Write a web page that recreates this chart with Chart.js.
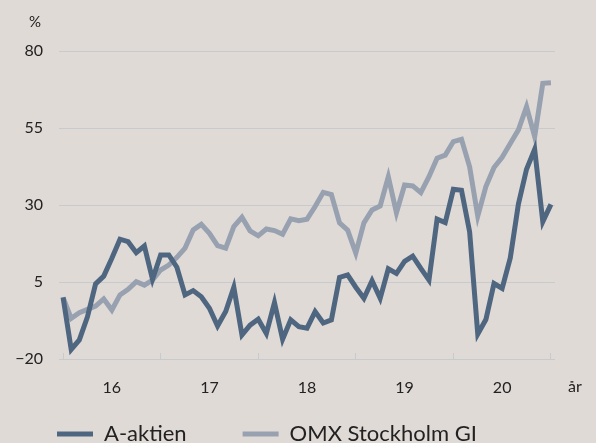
<!DOCTYPE html>
<html>
<head>
<meta charset="utf-8">
<script src="https://cdn.jsdelivr.net/npm/chart.js@4.4.1/dist/chart.umd.min.js"></script>
<style>
  html, body { margin: 0; padding: 0; background: #e0dad7; overflow: hidden; height: 443px; }
  canvas { display: block; }
</style>
</head>
<body>
<canvas id="chart" width="596" height="455"></canvas>
<script>
// month-end observations, Dec 2015 .. Dec 2020
const YEAR_LABELS = ['16', '17', '18', '19', '20'];
const MONTHS = ['dec 15'];
YEAR_LABELS.forEach(y => {
    ['jan', 'feb', 'mar', 'apr', 'maj', 'jun', 'jul', 'aug', 'sep', 'okt', 'nov', 'dec']
        .forEach(m => MONTHS.push(m + ' ' + y));
});

const A_AKTIEN = [
    0, -16.9, -13.8, -6.3, 4.4, 6.9, 12.7, 18.9, 18.1, 14.5, 16.7, 5.9,
    13.8, 13.8, 9.8, 0.8, 2.2, 0.2, -3.5, -9.3, -4.6, 3.3, -12.2, -9,
    -7.1, -11.7, -1.7, -13.6, -7.3, -9.5, -10, -4.6, -8.3, -7.3, 6.5, 7.3,
    3.3, -0.3, 5.4, -0.3, 9.3, 7.8, 11.7, 13.4, 9.4, 5.6, 25.4, 24.3,
    35.1, 34.8, 21.3, -11.9, -7.2, 4.5, 2.9, 12.8, 30.3, 41.6, 48.1, 24.6,
    30.2
];
const OMX_GI = [
    0, -6.8, -5, -3.9, -2.8, -0.5, -4.1, 0.8, 2.6, 5.1, 4, 5.6,
    8.9, 10.5, 13, 16, 21.9, 23.7, 20.8, 16.8, 16, 23, 26, 21.6,
    20, 22.2, 21.7, 20.5, 25.5, 24.9, 25.4, 29.5, 34.1, 33.4, 24.2, 21.8,
    14.4, 24.2, 28.4, 29.7, 39.2, 27.5, 36.5, 36.2, 34, 39.2, 45.2, 46.2,
    50.6, 51.3, 42.4, 26.4, 36, 42.2, 45.5, 50, 54.4, 61.9, 52.2, 69.5,
    69.7
];
const Y_TICKS = [-20, 5, 30, 55, 80];

const DARK = '#4e6680';
const LIGHT = '#98a1b0';
const GRID = '#c7cbce';
const TEXT = '#222222';
const FONT = 'Lato, "Open Sans", sans-serif';

const unitLabels = {
    id: 'unitLabels',
    afterDraw(chart) {
        const { ctx, chartArea, scales } = chart;
        ctx.save();
        ctx.fillStyle = TEXT;
        ctx.font = '15px ' + FONT;
        ctx.textBaseline = 'middle';
        ctx.textAlign = 'right';
        ctx.fillText('%', scales.y.right - 18, chartArea.top - 29);
        ctx.font = '16px ' + FONT;
        ctx.textAlign = 'center';
        ctx.fillText('år', chartArea.right + 20, scales.x.top + 28);
        ctx.restore();
    }
};

new Chart(document.getElementById('chart'), {
    type: 'line',
    data: {
        labels: MONTHS,
        datasets: [
            { label: 'A-aktien', data: A_AKTIEN, borderColor: DARK, backgroundColor: DARK, pointBorderWidth: 5 },
            { label: 'OMX Stockholm GI', data: OMX_GI, borderColor: LIGHT, backgroundColor: LIGHT, pointBorderWidth: 5 }
        ]
    },
    options: {
        responsive: false,
        animation: false,
        layout: { padding: { left: 1, right: 41, top: 51, bottom: 0 } },
        elements: {
            line: { borderWidth: 5, tension: 0 },
            point: { radius: 0, hoverRadius: 0 }
        },
        scales: {
            x: {
                type: 'category',
                offset: true,
                afterBuildTicks: s => { s.ticks = s.ticks.filter(t => t.value % 6 === 0); },
                afterFit: s => { s.height = 8; },
                grid: {
                    offset: false,
                    drawOnChartArea: false,
                    drawTicks: true,
                    tickLength: -6,
                    tickColor: c => (c.tick && c.tick.value % 12 === 0) ? GRID : 'rgba(0,0,0,0)'
                },
                border: { display: false },
                ticks: {
                    autoSkip: false,
                    maxRotation: 0,
                    mirror: true,
                    padding: -38,
                    color: TEXT,
                    font: { family: FONT, size: 16 },
                    callback: v => v % 12 === 6 ? YEAR_LABELS[(v - 6) / 12] : ''
                }
            },
            y: {
                min: -20,
                max: 80,
                afterBuildTicks: s => { s.ticks = Y_TICKS.map(v => ({ value: v })); },
                afterFit: s => { s.width = 58; },
                grid: { color: GRID, lineWidth: 1, drawTicks: false },
                border: { display: false },
                ticks: {
                    padding: 16,
                    color: TEXT,
                    font: { family: FONT, size: 16 },
                    callback: v => v < 0 ? '\u2212' + Math.abs(v) : String(v)
                }
            }
        },
        plugins: {
            legend: {
                position: 'bottom',
                align: 'start',
                labels: {
                    usePointStyle: true,
                    pointStyle: 'line',
                    pointStyleWidth: 36,
                    padding: 56,
                    color: TEXT,
                    font: { family: FONT, size: 22 }
                }
            },
            tooltip: { enabled: false }
        }
    },
    plugins: [unitLabels]
});
</script>
</body>
</html>
